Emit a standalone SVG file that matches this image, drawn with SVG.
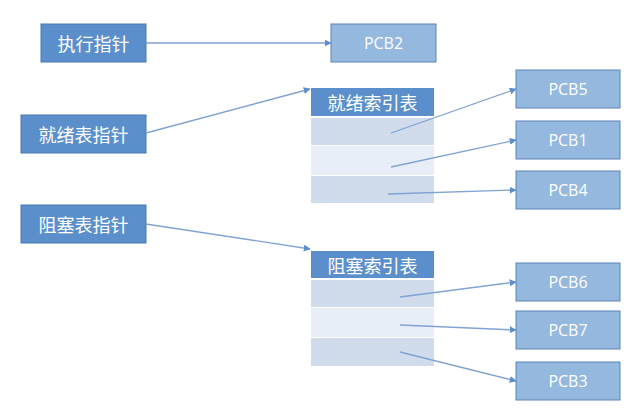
<svg xmlns="http://www.w3.org/2000/svg" width="638" height="420" viewBox="0 0 638 420">
  <style>
    .ptr { fill: #5b8fcb; stroke: #4a78ad; stroke-width: 1; }
    .pcb { fill: #95b8df; stroke: #5b84b8; stroke-width: 1; }
    .head { fill: #5b8fcb; }
    .rowA { fill: #d0dbec; }
    .rowB { fill: #e8eef7; }
    .zh { font-family: "Noto Sans CJK SC", "Noto Sans", sans-serif; font-size: 18px; fill: #ffffff; text-anchor: middle; dominant-baseline: central; }
    .en { font-family: "Open Sans", "Liberation Sans", sans-serif; font-size: 16px; fill: #ffffff; text-anchor: middle; dominant-baseline: central; }
    .link { stroke: #7fa3d3; stroke-width: 1.3; fill: none; marker-end: url(#tip); }
  </style>
  <defs>
    <marker id="tip" viewBox="0 0 10 10" refX="9" refY="5" markerWidth="7" markerHeight="7" orient="auto" markerUnits="userSpaceOnUse">
      <path d="M0,0 L10,5 L0,10 z" fill="#5b8fcb"/>
    </marker>
  </defs>
  <rect width="638" height="420" fill="#ffffff"/>

  <!-- pointer boxes -->
  <g id="exec-ptr">
    <rect class="ptr" x="41" y="24" width="105" height="38"/>
    <text class="zh" x="93.5" y="43">执行指针</text>
  </g>
  <g id="ready-ptr">
    <rect class="ptr" x="21" y="115" width="125" height="38"/>
    <text class="zh" x="83.5" y="134">就绪表指针</text>
  </g>
  <g id="block-ptr">
    <rect class="ptr" x="21" y="205" width="125" height="38"/>
    <text class="zh" x="83.5" y="224">阻塞表指针</text>
  </g>

  <!-- ready index table -->
  <g id="ready-table">
    <rect class="head" x="311" y="88" width="123" height="28"/>
    <text class="zh" x="372.5" y="102">就绪索引表</text>
    <rect class="rowA" x="311" y="118" width="123" height="27"/>
    <rect class="rowB" x="311" y="146" width="123" height="29"/>
    <rect class="rowA" x="311" y="176" width="123" height="27"/>
  </g>

  <!-- blocked index table -->
  <g id="block-table">
    <rect class="head" x="311" y="251" width="123" height="27"/>
    <text class="zh" x="372.5" y="264.5">阻塞索引表</text>
    <rect class="rowA" x="311" y="280" width="123" height="27"/>
    <rect class="rowB" x="311" y="308" width="123" height="29"/>
    <rect class="rowA" x="311" y="338" width="123" height="28"/>
  </g>

  <!-- process control blocks -->
  <g id="pcb2">
    <rect class="pcb" x="331" y="24" width="105" height="38"/>
    <text class="en" x="383.5" y="43">PCB2</text>
  </g>
  <g id="pcb5">
    <rect class="pcb" x="516" y="70" width="104" height="38"/>
    <text class="en" x="568" y="89">PCB5</text>
  </g>
  <g id="pcb1">
    <rect class="pcb" x="516" y="121" width="104" height="38"/>
    <text class="en" x="568" y="140">PCB1</text>
  </g>
  <g id="pcb4">
    <rect class="pcb" x="516" y="171" width="104" height="38"/>
    <text class="en" x="568" y="190">PCB4</text>
  </g>
  <g id="pcb6">
    <rect class="pcb" x="516" y="263" width="104" height="38"/>
    <text class="en" x="568" y="282">PCB6</text>
  </g>
  <g id="pcb7">
    <rect class="pcb" x="516" y="311" width="104" height="38"/>
    <text class="en" x="568" y="330">PCB7</text>
  </g>
  <g id="pcb3">
    <rect class="pcb" x="516" y="362" width="104" height="38"/>
    <text class="en" x="568" y="381">PCB3</text>
  </g>

  <!-- connectors -->
  <g id="connectors">
    <line class="link" x1="146" y1="43" x2="331" y2="43"/>
    <line class="link" x1="146" y1="133" x2="310" y2="89"/>
    <line class="link" x1="146" y1="224" x2="310" y2="249"/>
    <line class="link" x1="391" y1="133" x2="516" y2="89"/>
    <line class="link" x1="391" y1="167" x2="516" y2="140"/>
    <line class="link" x1="388" y1="194" x2="516" y2="190"/>
    <line class="link" x1="400" y1="297" x2="516" y2="282"/>
    <line class="link" x1="400" y1="325" x2="516" y2="330"/>
    <line class="link" x1="400" y1="352" x2="516" y2="381"/>
  </g>
</svg>
